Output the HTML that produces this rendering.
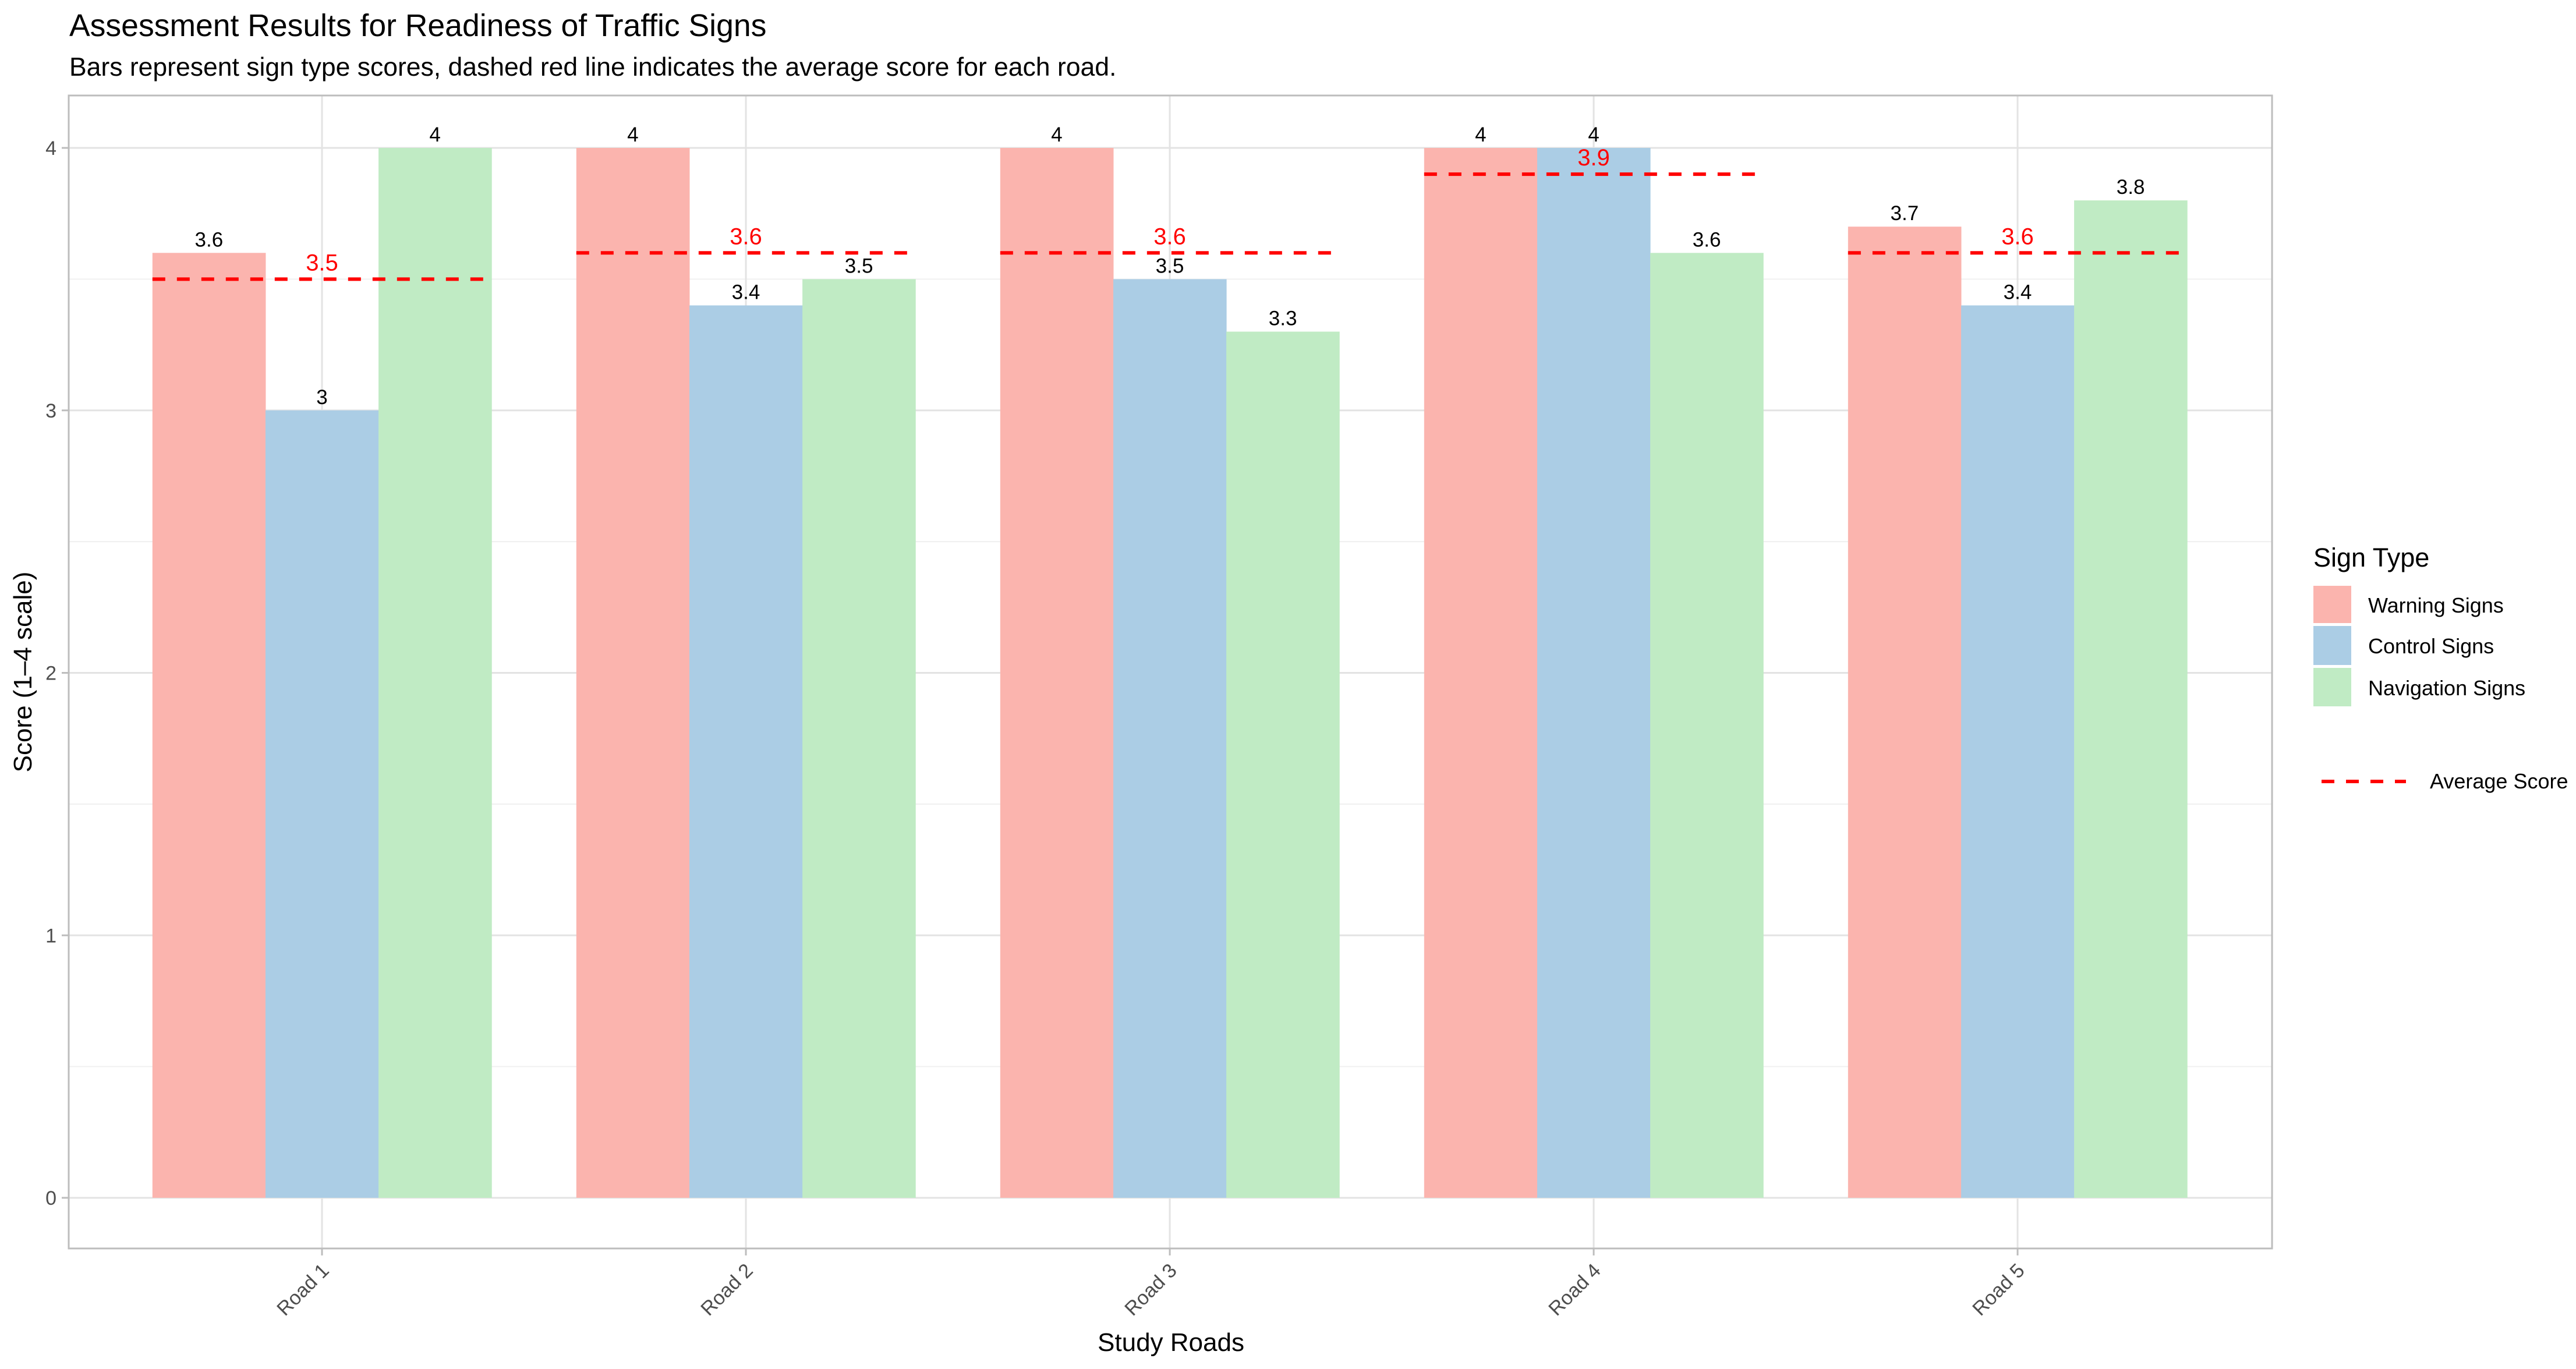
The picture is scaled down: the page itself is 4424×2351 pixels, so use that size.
<!DOCTYPE html>
<html><head><meta charset="utf-8"><style>
html,body{margin:0;padding:0;background:#fff;}
svg{display:block;font-family:"Liberation Sans",sans-serif;}
</style></head><body>
<svg id="chart" width="4424" height="2351" xmlns="http://www.w3.org/2000/svg">
<text x="119" y="62" font-size="53.5" fill="#000">Assessment Results for Readiness of Traffic Signs</text>
<text x="119" y="130" font-size="44.5" fill="#000">Bars represent sign type scores, dashed red line indicates the average score for each road.</text>
<g id="grid"></g>
<g id="bars"></g>
<g id="avgs"></g>
<rect x="118" y="164" width="3784" height="1980" fill="none" stroke="#bdbdbd" stroke-width="3"/>
<g id="axes"></g>
<text x="2011" y="2320" font-size="44" text-anchor="middle" fill="#000">Study Roads</text>
<text transform="translate(54,1154) rotate(-90)" font-size="44" text-anchor="middle" fill="#000">Score (1–4 scale)</text>
<g>
<text x="3973" y="973" font-size="45" fill="#000">Sign Type</text>
<rect x="3973" y="1006" width="65" height="64" fill="#FBB4AE"/>
<rect x="3973" y="1075" width="65" height="67" fill="#ABCDE5"/>
<rect x="3973" y="1147" width="65" height="66" fill="#C0EBC4"/>
<text x="4067" y="1052" font-size="36" fill="#000">Warning Signs</text>
<text x="4067" y="1122" font-size="36" fill="#000">Control Signs</text>
<text x="4067" y="1194" font-size="36" fill="#000">Navigation Signs</text>
<line x1="3987" y1="1342" x2="4132" y2="1342" stroke="#ff0000" stroke-width="6" stroke-dasharray="22,20"/>
<text x="4173" y="1354" font-size="36" fill="#000">Average Score</text>
</g>
</svg>
<script>
const roads = ["Road 1","Road 2","Road 3","Road 4","Road 5"];
const warning = [3.6, 4, 4, 4, 3.7];
const control = [3, 3.4, 3.5, 4, 3.4];
const navigation = [4, 3.5, 3.3, 3.6, 3.8];
const averages = [3.5, 3.6, 3.6, 3.9, 3.6];
const yTicks = [0, 1, 2, 3, 4];

const NS = "http://www.w3.org/2000/svg";
const PL = 118, PR = 3902, PT = 164, PB = 2144;
const Y0 = 2057, UNIT = (2057 - 254) / 4;
const BAND = 728, FIRST = 553;
function y(v){ return Y0 - v * UNIT; }
function xc(i){ return FIRST + i * BAND; }
function mk(tag, attrs, parent){
  const e = document.createElementNS(NS, tag);
  for (const k in attrs) e.setAttribute(k, attrs[k]);
  parent.appendChild(e); return e;
}
const grid = document.getElementById('grid');
const bars = document.getElementById('bars');
const avgs = document.getElementById('avgs');
const axes = document.getElementById('axes');

for (let v = 0.5; v < 4.3; v += 1) {
  const l = mk('line', {x1:PL, x2:PR, y1:y(v), y2:y(v), stroke:'#f0f0f0', 'stroke-width':2}, grid);
  
  
}
yTicks.forEach(v => {
  const l = mk('line', {x1:PL, x2:PR, y1:y(v), y2:y(v), stroke:'#e3e3e3', 'stroke-width':3}, grid);
  
  
  const t = mk('line', {x1:106, x2:PL, y1:y(v), y2:y(v), stroke:'#bdbdbd', 'stroke-width':3}, axes);
  
  
  const lb = mk('text', {x:97, y:y(v)+12, 'font-size':34, 'text-anchor':'end', fill:'#4d4d4d'}, axes);
  lb.textContent = v;
  
  
});
roads.forEach((r, i) => {
  const l = mk('line', {x1:xc(i), x2:xc(i), y1:PT, y2:PB, stroke:'#e3e3e3', 'stroke-width':3}, grid);
  
  
  const t = mk('line', {x1:xc(i), x2:xc(i), y1:PB, y2:PB+12, stroke:'#bdbdbd', 'stroke-width':3}, axes);
  
  
  const lb = mk('text', {transform:`translate(${xc(i)+14},${PB+40}) rotate(-45)`, 'font-size':34, 'text-anchor':'end', fill:'#4d4d4d'}, axes);
  lb.textContent = r;
  
  
});

const series = [warning, control, navigation];
const colors = ['#FBB4AE', '#ABCDE5', '#C0EBC4'];
const names = ['warning', 'control', 'navigation'];
const BW = BAND * 0.8 / 3;
roads.forEach((r, i) => {
  const g0 = xc(i) - BAND * 0.4;
  series.forEach((s, j) => {
    const x = g0 + j * BW;
    const b = mk('rect', {x:x, y:y(s[i]), width:BW+0.5, height:y(0)-y(s[i]), fill:colors[j]}, bars);
    
    
    const t = mk('text', {x:x+BW/2, y:y(s[i])-11, 'font-size':35, 'text-anchor':'middle', fill:'#000'}, bars);
    t.textContent = s[i];
    
    
  });
  const a = averages[i];
  const l = mk('line', {x1:g0, x2:g0+BAND*0.8, y1:y(a), y2:y(a), stroke:'#ff0000', 'stroke-width':6, 'stroke-dasharray':'22,20'}, avgs);
  
  
  const t = mk('text', {x:xc(i), y:y(a)-15, 'font-size':40, 'text-anchor':'middle', fill:'#ff0000'}, avgs);
  t.textContent = a.toFixed(1);
  
  
});
</script>
</body></html>
